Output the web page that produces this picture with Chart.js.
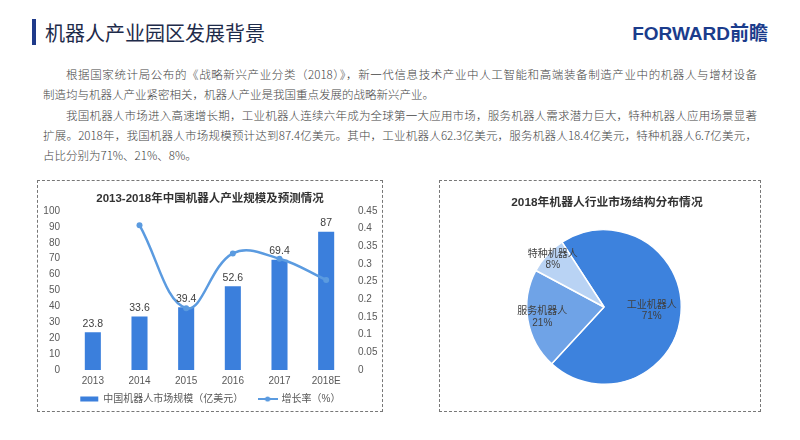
<!DOCTYPE html>
<html>
<head>
<meta charset="utf-8">
<script src="https://cdn.jsdelivr.net/npm/chart.js@4.4.0/dist/chart.umd.min.js"></script>
<style>
  html, body { margin: 0; padding: 0; background: #fff; }
  body { width: 800px; height: 440px; position: relative; overflow: hidden; font-family: "Noto Sans CJK SC", sans-serif; }
  .head-bar { position: absolute; left: 32px; top: 19px; width: 4px; height: 26px; background: #1f3a8a; }
  .head-title { position: absolute; left: 45px; top: 19px; font-size: 20px; line-height: 28px; color: #1e2b4a; }
  .logo { position: absolute; right: 32px; top: 23px; font: bold 19px "Liberation Sans", "Noto Sans CJK SC", sans-serif; color: #1b3c8c; line-height: 22px; }
  .intro { position: absolute; left: 43px; top: 64px; width: 714px; font-size: 11.5px; font-weight: 300; line-height: 20.3px; color: #444; }
  .intro span { display: block; white-space: nowrap; }
  .intro .j { text-align: justify; text-align-last: justify; white-space: normal; }
  .intro .ind { text-indent: 2em; }
  .frame { position: absolute; border: 1px dashed #777; box-sizing: border-box; }
  .chart { position: absolute; }
  .chart-title { position: absolute; text-align: center; font-weight: bold; color: #333; white-space: nowrap;
                 font-family: "Liberation Sans", "Noto Sans CJK SC", sans-serif; line-height: 16px; }
</style>
</head>
<body>
<div class="head-bar"></div>
<div class="head-title">机器人产业园区发展背景</div>
<div class="logo">FORWARD前瞻</div>

<div class="intro">
  <span class="j ind">根据国家统计局公布的《战略新兴产业分类（2018）》，新一代信息技术产业中人工智能和高端装备制造产业中的机器人与增材设备</span>
  <span>制造均与机器人产业紧密相关，机器人产业是我国重点发展的战略新兴产业。</span>
  <span class="j ind">我国机器人市场进入高速增长期，工业机器人连续六年成为全球第一大应用市场，服务机器人需求潜力巨大，特种机器人应用场景显著</span>
  <span class="j">扩展。2018年，我国机器人市场规模预计达到87.4亿美元。其中，工业机器人62.3亿美元，服务机器人18.4亿美元，特种机器人6.7亿美元，</span>
  <span>占比分别为71%、21%、8%。</span>
</div>

<div class="frame" style="left:37px; top:180px; width:346px; height:232px;"></div>
<div class="chart" style="left:37px; top:180px; width:346px; height:232px;"><canvas id="size-chart"></canvas></div>
<div class="chart-title" style="left:37px; top:190px; width:346px; font-size:11.5px;">2013-2018年中国机器人产业规模及预测情况</div>

<div class="frame" style="left:439px; top:180px; width:322px; height:232px;"></div>
<div class="chart" style="left:439px; top:180px; width:322px; height:232px;"><canvas id="share-chart"></canvas></div>
<div class="chart-title" style="left:446px; top:194px; width:322px; font-size:11.8px;">2018年机器人行业市场结构分布情况</div>

<script>
// ===== data =====
const years = ['2013', '2014', '2015', '2016', '2017', '2018E'];
const marketSize = [23.8, 33.6, 39.4, 52.6, 69.4, 87];
const growthRate = [null, 0.41, 0.175, 0.33, 0.315, 0.255];
const legendNames = ['中国机器人市场规模（亿美元）', '增长率（%）'];

const shareLabels = ['工业机器人', '服务机器人', '特种机器人'];
const shareValues = [71, 21, 8];

// ===== styles =====
const barColor = '#3b7fdc';
const lineColor = '#5b9be0';
const shareColors = ['#3d82dd', '#6fa3e7', '#b9d3f4'];
const shareLabelRadius = [0.62, 0.81, 0.9];
const fontFamily = '"Liberation Sans", "Noto Sans CJK SC", sans-serif';
const tickColor = '#595959';

Chart.defaults.font.family = fontFamily;

function makeLineIcon(color) {
    const c = document.createElement('canvas');
    c.width = 20;
    c.height = 8;
    const g = c.getContext('2d');
    g.strokeStyle = color;
    g.lineWidth = 2;
    g.beginPath();
    g.moveTo(0, 4);
    g.lineTo(20, 4);
    g.stroke();
    g.fillStyle = color;
    g.beginPath();
    g.arc(10, 4, 2.6, 0, Math.PI * 2);
    g.fill();
    return c;
}

// value labels above the bars
const barValueLabels = {
    id: 'barValueLabels',
    afterDatasetsDraw(chart) {
        const meta = chart.getDatasetMeta(1);
        const ctx = chart.ctx;
        ctx.save();
        ctx.font = '10.5px ' + fontFamily;
        ctx.fillStyle = '#404040';
        ctx.textAlign = 'center';
        ctx.textBaseline = 'middle';
        meta.data.forEach((bar, i) => {
            ctx.fillText(String(marketSize[i]), bar.x, bar.y - 8.5);
        });
        ctx.restore();
    }
};

// name + percent on each slice
const sliceLabels = {
    id: 'sliceLabels',
    afterDatasetsDraw(chart) {
        const meta = chart.getDatasetMeta(0);
        const ctx = chart.ctx;
        ctx.save();
        ctx.font = '10px ' + fontFamily;
        ctx.fillStyle = '#404040';
        ctx.textAlign = 'center';
        ctx.textBaseline = 'middle';
        meta.data.forEach((arc, i) => {
            const mid = (arc.startAngle + arc.endAngle) / 2;
            const r = arc.outerRadius * shareLabelRadius[i];
            const x = arc.x + Math.cos(mid) * r;
            const y = arc.y + Math.sin(mid) * r;
            ctx.fillText(shareLabels[i], x, y - 5.7);
            ctx.fillText(shareValues[i] + '%', x, y + 5.7);
        });
        ctx.restore();
    }
};

const hiddenGrid = { display: false, drawTicks: false, tickLength: 0 };

function initSizeChart() {
    const lineIcon = makeLineIcon(lineColor);
    new Chart(document.getElementById('size-chart'), {
        type: 'bar',
        data: {
            labels: years,
            datasets: [{
                type: 'line',
                label: legendNames[1],
                data: growthRate,
                yAxisID: 'y1',
                borderColor: lineColor,
                backgroundColor: lineColor,
                borderWidth: 2.5,
                pointRadius: 3,
                pointBackgroundColor: lineColor,
                pointBorderWidth: 0,
                tension: 0.4
            }, {
                type: 'bar',
                label: legendNames[0],
                data: marketSize,
                yAxisID: 'y',
                backgroundColor: barColor,
                barPercentage: 0.43,
                categoryPercentage: 0.8
            }]
        },
        options: {
            responsive: true,
            maintainAspectRatio: false,
            animation: false,
            layout: { padding: { left: 6.3, right: 5.5, top: 31, bottom: -2 } },
            scales: {
                x: {
                    grid: hiddenGrid,
                    border: { display: false },
                    ticks: { color: tickColor, font: { size: 10 }, padding: 5 },
                    afterFit: s => { s.height = 17; }
                },
                y: {
                    position: 'left',
                    min: 0,
                    max: 100,
                    grid: hiddenGrid,
                    border: { display: false },
                    ticks: { stepSize: 10, color: tickColor, font: { size: 10 }, padding: 9.5 },
                    afterFit: s => { s.width = 26.2; }
                },
                y1: {
                    position: 'right',
                    min: 0,
                    max: 0.45,
                    grid: hiddenGrid,
                    border: { display: false },
                    ticks: {
                        stepSize: 0.05,
                        color: tickColor,
                        font: { size: 10 },
                        padding: 8.5,
                        callback: v => String(Number(v.toFixed(2)))
                    },
                    afterFit: s => { s.width = 28; }
                }
            },
            plugins: {
                legend: {
                    position: 'bottom',
                    labels: {
                        usePointStyle: true,
                        pointStyleWidth: 18,
                        boxHeight: 5,
                        padding: 7,
                        color: tickColor,
                        font: { size: 10 },
                        generateLabels: () => [{
                            text: legendNames[0] + '   ',
                            fillStyle: barColor,
                            strokeStyle: barColor,
                            lineWidth: 0,
                            pointStyle: 'rect',
                            fontColor: tickColor,
                            hidden: false,
                            datasetIndex: 1
                        }, {
                            text: legendNames[1],
                            fillStyle: lineColor,
                            strokeStyle: lineColor,
                            lineWidth: 0,
                            pointStyle: lineIcon,
                            fontColor: tickColor,
                            hidden: false,
                            datasetIndex: 0
                        }]
                    }
                },
                tooltip: { enabled: false }
            }
        },
        plugins: [barValueLabels]
    });
}

function initShareChart() {
    new Chart(document.getElementById('share-chart'), {
        type: 'pie',
        data: {
            labels: shareLabels,
            datasets: [{
                data: shareValues,
                backgroundColor: shareColors,
                borderColor: '#fff',
                borderWidth: 1.5
            }]
        },
        options: {
            responsive: true,
            maintainAspectRatio: false,
            animation: false,
            rotation: -33,
            layout: { padding: { left: 8, right: 0, top: 49, bottom: 27 } },
            plugins: {
                legend: { display: false },
                tooltip: { enabled: false }
            }
        },
        plugins: [sliceLabels]
    });
}

initSizeChart();
initShareChart();
</script>
</body>
</html>
